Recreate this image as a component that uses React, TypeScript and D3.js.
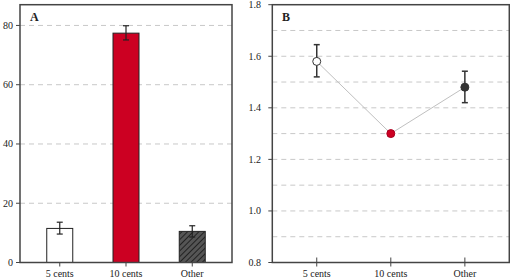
import React from "react";
import * as d3 from "d3";

const categories = ["5 cents", "10 cents", "Other"];
const percentValues = [11.5, 77.4, 10.5];
const percentErrLow = [9.6, 75.1, 8.6];
const percentErrHigh = [13.6, 79.9, 12.4];
const meanValues = [1.58, 1.30, 1.48];
const meanErrLow = [1.52, 1.29, 1.42];
const meanErrHigh = [1.645, 1.31, 1.542];
const leftTicks = [0, 20, 40, 60, 80];
const rightTicks = [0.8, 1.0, 1.2, 1.4, 1.6, 1.8];
const rightGrid = [0.9, 1.0, 1.1, 1.2, 1.3, 1.4, 1.5, 1.6, 1.7];
const colors = ["#ffffff", "#cc0022", "#444444"];

const FONT = "'Liberation Serif', 'Times New Roman', serif";
const FRAME = "#444";

export default function App() {
  const top = 4.7;
  const bottom = 262.5;

  // Left panel
  const lx0 = 20, lx1 = 232;
  const xL = d3.scalePoint<string>().domain(categories).range([lx0, lx1]).padding(0.6);
  const yL = d3.scaleLinear().domain([0, 87]).range([bottom, top]);

  // Right panel
  const rx0 = 272.3, rx1 = 509.3;
  const xR = d3.scalePoint<string>().domain(categories).range([rx0, rx1]).padding(0.6);
  const yR = d3.scaleLinear().domain([0.8, 1.8]).range([bottom, top]);

  const barW = 26;
  const line = d3.line<number>()
    .x((_, i) => xR(categories[i]) as number)
    .y((d) => yR(d));

  return (
    <svg width={510} height={278} style={{ position: "absolute", left: 0, top: 0, background: "#fff" }}
      fontFamily={FONT}>
      <defs>
        <pattern id="hatch" patternUnits="userSpaceOnUse" width={4} height={4} patternTransform="rotate(45)">
          <rect width={4} height={4} fill="#555" />
          <line x1={0} y1={0} x2={0} y2={4} stroke="#222" strokeWidth={2} />
        </pattern>
      </defs>

      {/* Left panel */}
      {leftTicks.filter((t) => t > 0).map((t) => (
        <line key={"lg" + t} x1={lx0} x2={lx1} y1={yL(t)} y2={yL(t)} stroke="#c8c8c8" strokeDasharray="5,4" strokeWidth={1} />
      ))}
      {leftTicks.map((t) => (
        <g key={"lt" + t}>
          <line x1={lx0 - 4} x2={lx0} y1={yL(t)} y2={yL(t)} stroke={FRAME} strokeWidth={1} />
          <text x={13} y={yL(t)} dy="0.35em" textAnchor="end" fontSize={10} fill="#222">{t}</text>
        </g>
      ))}
      {categories.map((c, i) => (
        <rect key={"b" + c} x={(xL(c) as number) - barW / 2} y={yL(percentValues[i])}
          width={barW} height={yL(0) - yL(percentValues[i])}
          fill={i === 2 ? "url(#hatch)" : colors[i]} stroke="#222" strokeWidth={1} />
      ))}
      {categories.map((c, i) => {
        const x = xL(c) as number;
        return (
          <g key={"e" + c} stroke="#222" strokeWidth={1.2}>
            <line x1={x} x2={x} y1={yL(percentErrLow[i])} y2={yL(percentErrHigh[i])} />
            <line x1={x - 3} x2={x + 3} y1={yL(percentErrLow[i])} y2={yL(percentErrLow[i])} />
            <line x1={x - 3} x2={x + 3} y1={yL(percentErrHigh[i])} y2={yL(percentErrHigh[i])} />
          </g>
        );
      })}
      {categories.map((c) => (
        <g key={"lx" + c}>
          <line x1={xL(c) as number} x2={xL(c) as number} y1={bottom} y2={bottom + 4} stroke={FRAME} strokeWidth={1} />
          <text x={xL(c) as number} y={277} textAnchor="middle" fontSize={10} fill="#222">{c}</text>
        </g>
      ))}
      <rect x={lx0} y={top} width={lx1 - lx0} height={bottom - top} fill="none" stroke={FRAME} strokeWidth={1.5} />
      <text x={30} y={20.5} fontSize={12} fontWeight="bold" fill="#222">A</text>

      {/* Right panel */}
      {rightGrid.map((t) => (
        <line key={"rg" + t} x1={rx0} x2={rx1} y1={yR(t)} y2={yR(t)} stroke="#c8c8c8" strokeDasharray="5,4" strokeWidth={1} />
      ))}
      {rightTicks.map((t) => (
        <g key={"rt" + t}>
          <line x1={rx0 - 4} x2={rx0} y1={yR(t)} y2={yR(t)} stroke={FRAME} strokeWidth={1} />
          <text x={261} y={yR(t)} dy="0.35em" textAnchor="end" fontSize={10} fill="#222">{t.toFixed(1)}</text>
        </g>
      ))}
      <path d={line(meanValues) || ""} fill="none" stroke="#c0c0c0" strokeWidth={1} />
      {categories.map((c, i) => {
        const x = xR(c) as number;
        return (
          <g key={"re" + c} stroke="#333" strokeWidth={1.5}>
            <line x1={x} x2={x} y1={yR(meanErrLow[i])} y2={yR(meanErrHigh[i])} />
            <line x1={x - 3} x2={x + 3} y1={yR(meanErrLow[i])} y2={yR(meanErrLow[i])} />
            <line x1={x - 3} x2={x + 3} y1={yR(meanErrHigh[i])} y2={yR(meanErrHigh[i])} />
          </g>
        );
      })}
      {categories.map((c, i) => (
        <circle key={"p" + c} cx={xR(c) as number} cy={yR(meanValues[i])} r={4}
          fill={i === 2 ? "#333" : colors[i]} stroke={i === 1 ? "#aa0020" : "#333"} strokeWidth={1} />
      ))}
      {categories.map((c) => (
        <g key={"rx" + c}>
          <line x1={xR(c) as number} x2={xR(c) as number} y1={bottom - 5} y2={bottom + 4} stroke={FRAME} strokeWidth={1} />
          <text x={xR(c) as number} y={277} textAnchor="middle" fontSize={10} fill="#222">{c}</text>
        </g>
      ))}
      <rect x={rx0} y={top} width={rx1 - rx0} height={bottom - top} fill="none" stroke={FRAME} strokeWidth={1.5} />
      <text x={282} y={20.5} fontSize={12} fontWeight="bold" fill="#222">B</text>
    </svg>
  );
}
